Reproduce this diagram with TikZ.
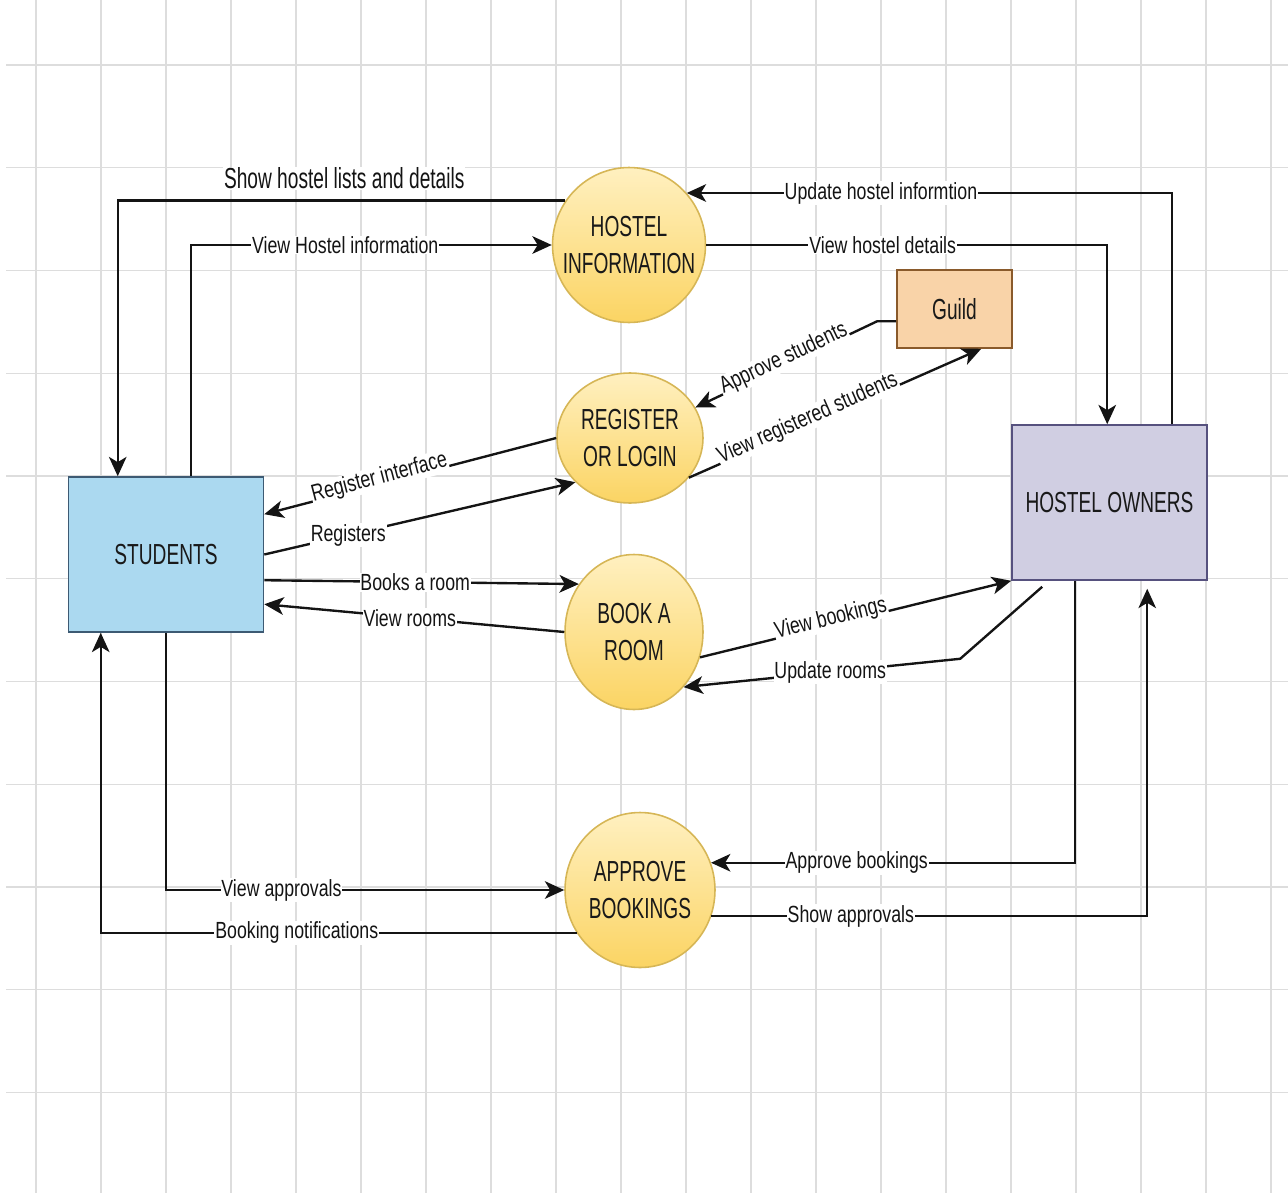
\documentclass[tikz,border=0pt]{standalone}
\usepackage{fontspec}
\setmainfont[FakeStretch=0.76]{Liberation Sans}
\newfontfamily\tallfont[FakeStretch=0.66]{Liberation Sans}
\usetikzlibrary{arrows.meta,shapes.geometric,calc}

\definecolor{stufill}{HTML}{ABD9F0}
\definecolor{stuline}{HTML}{3D5A73}
\definecolor{ownfill}{HTML}{D0CEE2}
\definecolor{ownline}{HTML}{56517E}
\definecolor{guildfill}{HTML}{F9D3A8}
\definecolor{guildline}{HTML}{8A5A2B}
\definecolor{proctop}{HTML}{FFF0C0}
\definecolor{procbot}{HTML}{FBD463}
\definecolor{procline}{HTML}{D6B656}
\definecolor{gridline}{HTML}{DDDDDD}

\begin{document}
\begin{tikzpicture}[x=0.02cm, y=-0.02cm,
  entity/.style={rectangle, draw, line width=0.9pt, inner sep=0pt, text=black!90,
    font=\tallfont\fontsize{16.5}{20}\selectfont},
  process/.style={ellipse, draw=procline, line width=0.9pt, top color=proctop,
    bottom color=procbot, inner xsep=-30pt, inner ysep=0pt, align=center, text=black!90,
    font=\tallfont\fontsize{16.5}{21.5}\selectfont},
  flow/.style={line width=1.35pt, draw=black!92, -{Stealth[length=11pt,width=10pt,inset=3pt]}},
  lbl/.style={fill=white, inner sep=0.5pt, text=black!92, font=\fontsize{13.3}{15}\selectfont},
  slbl/.style={lbl, sloped, anchor=base},
]
\path[use as bounding box] (0,0) rectangle (1288,1193);

% background grid
\foreach \gx in {0,...,19}
  \draw[gridline, line width=0.6pt] ({36+65*\gx},0) -- ({36+65*\gx},1193);
\foreach \gy in {0,...,10}
  \draw[gridline, line width=0.6pt] (6,{65+102.75*\gy}) -- (1288,{65+102.75*\gy});

% external entities
\node[entity, fill=stufill, draw=stuline, minimum width=3.9cm, minimum height=3.1cm]
  (stu) at (166,554.5) {STUDENTS};
\node[entity, fill=ownfill, draw=ownline, minimum width=3.9cm, minimum height=3.1cm]
  (own) at (1109.5,502.5) {HOSTEL OWNERS};
\node[entity, fill=guildfill, draw=guildline, minimum width=2.3cm, minimum height=1.56cm]
  (guild) at (954.5,309) {Guild};

% processes
\node[process, minimum width=3.06cm, minimum height=3.1cm] (hinfo) at (629,245) {HOSTEL\\INFORMATION};
\node[process, minimum width=2.92cm, minimum height=2.6cm] (reg) at (630,438) {REGISTER\\OR LOGIN};
\node[process, minimum width=2.76cm, minimum height=3.1cm] (book) at (634,632) {BOOK A\\ROOM};
\node[process, minimum width=3.0cm, minimum height=3.1cm] (appr) at (640,890) {APPROVE\\BOOKINGS};

% hostel information flows
\draw[flow] (hinfo.145) -| ($(stu.north west)+(50,0)$)
  node[pos=0.247, yshift=0.44cm, fill=white, inner sep=0.5pt, text=black!92,
       font=\tallfont\fontsize{16.5}{20}\selectfont] {Show hostel lists and details};
\draw[flow] ($(stu.north west)+(123,0)$) |- (hinfo.west)
  node[pos=0.714, lbl] {View Hostel information};
\draw[flow] ($(own.north west)+(161,0)$) |- (hinfo.42)
  node[pos=0.8, lbl] {Update hostel informtion};
\draw[flow] (hinfo.east) -| ($(own.north west)+(96,0)$)
  node[pos=0.22, lbl] {View hostel details};

% registration flows
\draw[flow] ($(guild.north west)+(0,52)$) -- ++(-19,0) -- (reg.25)
  node[pos=0.5, slbl] {Approve students};
\draw[flow] (reg.-34) -- ($(guild.south west)+(85,0)$)
  node[pos=0.415, slbl] {View registered students};
\draw[flow] (reg.west) -- ($(stu.north east)+(0,38)$)
  node[pos=0.6, slbl] {Register interface};
\draw[flow] (stu.east) -- (reg.219)
  node[pos=0.27, lbl] {Registers};

% booking flows
\draw[flow] ($(stu.north east)+(0,104)$) -- (book.139)
  node[pos=0.48, lbl] {Books a room};
\draw[flow] (book.west) -- ($(stu.north east)+(0,128)$)
  node[pos=0.515, lbl] {View rooms};
\draw[flow] (book.-21) -- (own.south west)
  node[pos=0.425, slbl] {View bookings};
\draw[flow] ($(own.south west)+(31,6)$) -- ++(-82,72) -- (book.-48)
  node[pos=0.47, lbl] {Update rooms};

% approval flows
\draw[flow] ($(own.south west)+(64,0)$) |- (appr.21)
  node[pos=0.8, lbl] {Approve bookings};
\draw[flow] (appr.-20) -| ($(own.south west)+(136,8)$)
  node[pos=0.16, lbl] {Show approvals};
\draw[flow] (stu.south) |- (appr.west)
  node[pos=0.645, lbl] {View approvals};
\draw[flow] (appr.214) -| ($(stu.south west)+(33,0)$)
  node[pos=0.294, lbl] {Booking notifications};
\end{tikzpicture}
\end{document}
